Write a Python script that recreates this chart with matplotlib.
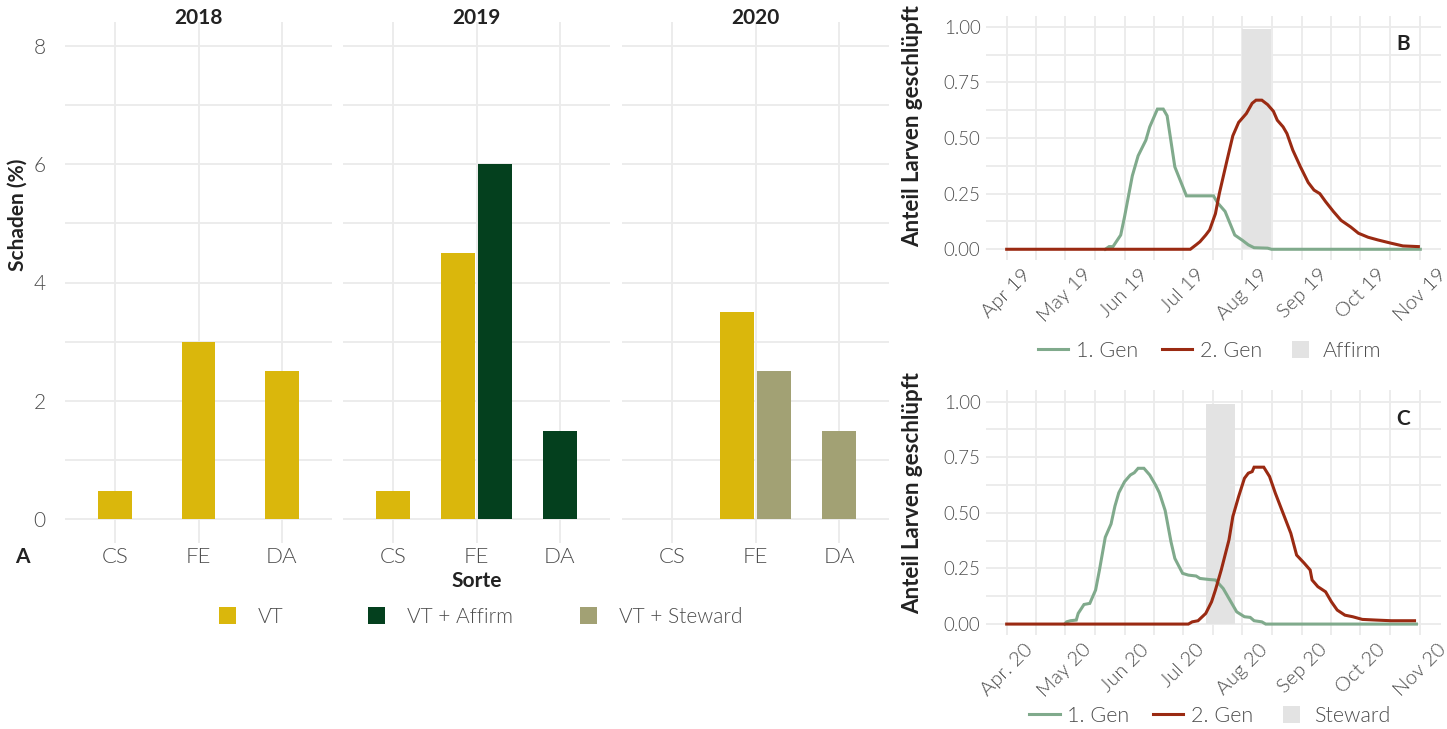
import numpy as np
import matplotlib
matplotlib.use("Agg")
import matplotlib.pyplot as plt
import matplotlib.dates as mdates
from matplotlib.patches import Rectangle, Patch
from matplotlib.lines import Line2D
from matplotlib.legend_handler import HandlerPatch

plt.rcParams['font.family'] = ['Lato', 'DejaVu Sans']

# ---------------- data: panel A (Schaden %) ----------------
sorten = ["CS", "FE", "DA"]
years = ["2018", "2019", "2020"]
nan = np.nan
vt_2018 = [0.47, 3.0, 2.5]
vt_2019 = [0.47, 4.5, nan]
affirm_2019 = [nan, 6.0, 1.5]
vt_2020 = [nan, 3.5, nan]
steward_2020 = [nan, 2.5, 1.5]
y_ticks_a = [0, 2, 4, 6, 8]
legend_a_labels = ["VT", "VT + Affirm", "VT + Steward"]

# ---------------- data: panel B (2019) ----------------
b_gen1_day = [51, 53, 55, 59, 61, 65, 68, 72, 74, 77, 78, 81, 83, 87, 93, 107, 109, 113,
              118, 122, 125, 128, 135, 137, 214]
b_gen1_val = [0, 0.012, 0.012, 0.064, 0.147, 0.33, 0.42, 0.49, 0.55, 0.61, 0.63, 0.63, 0.60,
              0.37, 0.24, 0.24, 0.21, 0.17, 0.064, 0.04, 0.02, 0.007, 0.005, 0, 0]
b_gen2_day = [0, 95, 98, 100, 103, 105, 108, 110, 114, 117, 120, 124, 127, 129, 132, 135, 138,
              140, 143, 145, 148, 152, 156, 159, 162, 165, 169, 173, 178, 182, 187, 192, 199,
              205, 213]
b_gen2_val = [0, 0, 0.02, 0.034, 0.064, 0.087, 0.16, 0.25, 0.40, 0.51, 0.57, 0.61, 0.656, 0.67,
              0.67, 0.65, 0.62, 0.58, 0.55, 0.52, 0.446, 0.37, 0.30, 0.266, 0.25, 0.214, 0.17,
              0.13, 0.10, 0.072, 0.054, 0.042, 0.027, 0.015, 0.012]
b_start = "2019-04-01"
b_months = ["2019-04-01", "2019-05-01", "2019-06-01", "2019-07-01", "2019-08-01",
            "2019-09-01", "2019-10-01", "2019-11-01"]
b_labels = ["Apr 19", "May 19", "Jun 19", "Jul 19", "Aug 19", "Sep 19", "Oct 19", "Nov 19"]
affirm_window = ["2019-08-01", "2019-08-16"]

# ---------------- data: panel C (2020) ----------------
c_gen1_day = [30, 31, 33, 36, 37, 40, 43, 46, 48, 51, 54, 56, 58, 61, 64, 66, 68, 71, 74, 77,
              79, 82, 85, 87, 91, 94, 98, 100, 105, 108, 112, 116, 119, 123, 126, 128, 132,
              134, 212]
c_gen1_val = [0, 0.01, 0.015, 0.018, 0.048, 0.088, 0.093, 0.153, 0.243, 0.39, 0.45, 0.53, 0.59,
              0.64, 0.67, 0.68, 0.70, 0.70, 0.67, 0.625, 0.59, 0.51, 0.37, 0.295, 0.228, 0.22,
              0.216, 0.205, 0.20, 0.198, 0.16, 0.10, 0.055, 0.033, 0.03, 0.015, 0.01, 0, 0]
c_gen2_day = [0, 94, 96, 99, 103, 106, 108, 111, 115, 117, 120, 123, 125, 127, 128, 133, 136,
              139, 143, 147, 150, 154, 157, 158, 161, 165, 168, 171, 175, 179, 184, 191, 199, 211]
c_gen2_val = [0, 0, 0.01, 0.015, 0.048, 0.10, 0.153, 0.243, 0.378, 0.483, 0.573, 0.655, 0.678,
              0.685, 0.705, 0.705, 0.663, 0.588, 0.498, 0.408, 0.31, 0.273, 0.243, 0.198, 0.168,
              0.145, 0.10, 0.063, 0.04, 0.033, 0.021, 0.018, 0.015, 0.015]
c_start = "2020-04-01"
c_months = ["2020-04-01", "2020-05-01", "2020-06-01", "2020-07-01", "2020-08-01",
            "2020-09-01", "2020-10-01", "2020-11-01"]
c_labels = ["Apr. 20", "May 20", "Jun 20", "Jul 20", "Aug 20", "Sep 20", "Oct 20", "Nov 20"]
steward_window = ["2020-07-13", "2020-07-28"]
y_ticks_bc = [0, 0.25, 0.5, 0.75, 1.0]

# ---------------- style ----------------
C_VT = "#DAB70C"
C_AFF = "#04401E"
C_STW = "#A2A174"
C_G1 = "#80AA8C"
C_G2 = "#9A2A12"
C_RECT = "#E3E3E3"
C_GRID = "#EBEBEB"
C_TICK = "#4D4D4D"
C_TITLE = "#222222"

W, H = 1447, 729
fig = plt.figure(figsize=(W / 100, H / 100), dpi=100)
fig.patch.set_facecolor("white")


def fx(px):
    return px / W


def fy(py):
    return 1 - py / H


def clean(ax):
    for s in ax.spines.values():
        s.set_visible(False)
    ax.tick_params(which="both", length=0)
    ax.set_axisbelow(True)
    ax.grid(which="both", color=C_GRID, lw=1.3)


class SquareHandler(HandlerPatch):
    def create_artists(self, legend, orig_handle, xdescent, ydescent, width, height,
                       fontsize, trans):
        s = 0.8 * fontsize
        cx = -xdescent + width / 2
        cy = -ydescent + height / 2
        p = Rectangle((cx - s / 2, cy - s / 2), s, s,
                      facecolor=orig_handle.get_facecolor(), edgecolor="none",
                      transform=trans)
        return [p]


# ---------------- panel A ----------------
panel_left = [65, 343, 622]
series_by_year = {
    "2018": [(vt_2018, C_VT)],
    "2019": [(vt_2019, C_VT), (affirm_2019, C_AFF)],
    "2020": [(vt_2020, C_VT), (steward_2020, C_STW)],
}
bw = 0.405
x = np.arange(len(sorten))
for i, yr in enumerate(years):
    ax = fig.add_axes([fx(panel_left[i]), fy(543), fx(267), (543 - 22) / H])
    clean(ax)
    ax.set_xlim(-0.6, 2.6)
    ax.set_ylim(-0.4, 8.4)
    ax.set_yticks(y_ticks_a)
    ax.set_yticks([1, 3, 5, 7], minor=True)
    ax.set_xticks(x)
    ax.set_xticklabels(sorten, fontsize=16, color=C_TICK, fontweight=300)
    ax.tick_params(axis="x", pad=3)
    if i == 0:
        ax.set_yticklabels([str(v) for v in y_ticks_a], fontsize=15, color=C_TICK,
                           fontweight=300)
        ax.tick_params(axis="y", pad=14)
    else:
        ax.set_yticklabels([])
    ser = series_by_year[yr]
    for j in range(len(sorten)):
        present = [(vals[j], col) for vals, col in ser if not np.isnan(vals[j])]
        n = len(present)
        for k, (v, col) in enumerate(present):
            off = 0 if n == 1 else (-0.225 if k == 0 else 0.225)
            ax.bar(x[j] + off, v, width=bw, color=col, zorder=3)
    fig.text(fx(panel_left[i] + 133.5), fy(18), yr, ha="center", va="center",
             fontsize=15, fontweight="bold", color=C_TITLE)

fig.text(fx(18), fy(215), "Schaden (%)", rotation=90, ha="center", va="center",
         fontsize=15, fontweight="bold", color=C_TITLE)
fig.text(fx(477), fy(581), "Sorte", ha="center", va="center",
         fontsize=15, fontweight="bold", color=C_TITLE)
fig.text(fx(22), fy(557), "A", ha="center", va="center",
         fontsize=15, fontweight="bold", color=C_TITLE)

# legend of panel A, one entry per key position
for lab, col, xl in zip(legend_a_labels, [C_VT, C_AFF, C_STW], [219, 368, 580]):
    lg = fig.legend(handles=[Patch(facecolor=col)], labels=[lab],
                    loc="center left", bbox_to_anchor=(fx(xl), fy(617)),
                    frameon=False, fontsize=15, handlelength=0.8, handleheight=0.8,
                    handletextpad=1.05, borderpad=0, borderaxespad=0,
                    handler_map={Patch: SquareHandler()})
    for t in lg.get_texts():
        t.set_color(C_TICK)
        t.set_fontweight(300)


# ---------------- panels B and C ----------------
def line_panel(top_px, start, g1d, g1v, g2d, g2v, months, labels, window, wlabel, tag,
               ylab_center, leg_y):
    ax = fig.add_axes([fx(986), fy(top_px + 244.8), fx(455), 244.8 / H])
    clean(ax)
    s = np.datetime64(start)
    d1 = s + np.array(g1d).astype("timedelta64[D]")
    d2 = s + np.array(g2d).astype("timedelta64[D]")
    mnum = mdates.date2num(np.array(months, dtype="datetime64[D]"))
    pad = 0.05 * (mnum[-1] - mnum[0])
    ax.set_xlim(mnum[0] - pad, mnum[-1] + pad)
    ax.set_ylim(-0.05, 1.05)
    ax.set_xticks(mnum)
    ax.set_xticks((mnum[:-1] + mnum[1:]) / 2, minor=True)
    ax.set_yticks(y_ticks_bc)
    ax.set_yticks([0.125, 0.375, 0.625, 0.875], minor=True)
    ax.set_yticklabels([f"{v:.2f}" for v in y_ticks_bc], fontsize=13.5, color=C_TICK,
                       fontweight=300)
    ax.set_xticklabels(labels, fontsize=14.5, color=C_TICK, fontweight=300,
                       rotation=45, ha="center", va="top")
    ax.tick_params(axis="y", pad=4)
    ax.tick_params(axis="x", pad=4)
    w = mdates.date2num(np.array(window, dtype="datetime64[D]"))
    ax.fill_between(w, 0, 0.99, color=C_RECT, lw=0, zorder=2)
    ax.plot(d1, g1v, color=C_G1, lw=2.2, zorder=3, solid_joinstyle="miter")
    ax.plot(d2, g2v, color=C_G2, lw=2.2, zorder=4, solid_joinstyle="miter")
    ax.text(0.916, 0.885, tag, transform=ax.transAxes, ha="center", va="center",
            fontsize=15, fontweight="bold", color=C_TITLE)
    fig.text(fx(913), fy(ylab_center), "Anteil Larven geschlüpft", rotation=90,
             ha="center", va="center", fontsize=16, fontweight="bold", color=C_TITLE)
    leg = ax.legend(handles=[Line2D([], [], color=C_G1, lw=2.2),
                             Line2D([], [], color=C_G2, lw=2.2),
                             Patch(facecolor=C_RECT)],
                    labels=["1. Gen", "2. Gen", wlabel],
                    loc="center", bbox_to_anchor=(fx(1210), fy(leg_y)),
                    bbox_transform=fig.transFigure, ncol=3, frameon=False, fontsize=15.5,
                    handlelength=1.4, handletextpad=0.35, columnspacing=1.1,
                    handler_map={Patch: SquareHandler()})
    for t in leg.get_texts():
        t.set_color(C_TICK)
        t.set_fontweight(300)
    return ax


line_panel(15.6, b_start, b_gen1_day, b_gen1_val, b_gen2_day, b_gen2_val, b_months,
           b_labels, affirm_window, "Affirm", "B", 126, 351)
line_panel(390.4, c_start, c_gen1_day, c_gen1_val, c_gen2_day, c_gen2_val, c_months,
           c_labels, steward_window, "Steward", "C", 493, 716)

fig.savefig("out.png", dpi=100, facecolor="white")
